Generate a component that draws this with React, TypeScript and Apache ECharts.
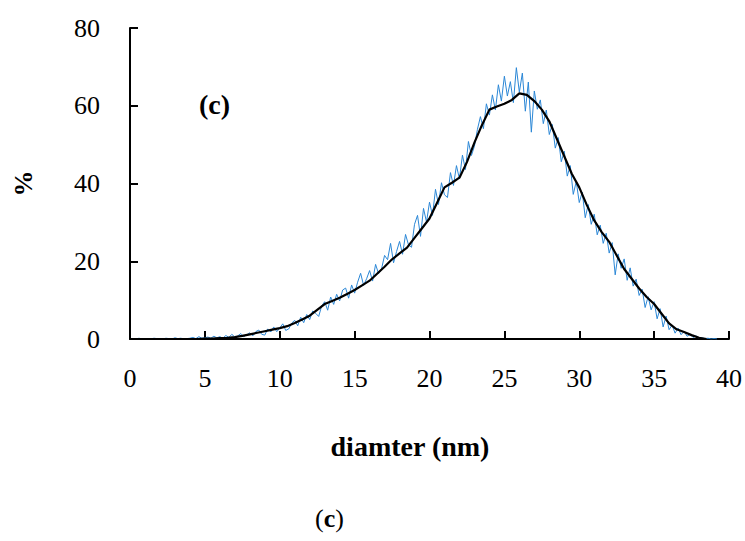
import React, { useEffect, useRef } from "react";
import * as echarts from "echarts";

const xTicks = [0, 5, 10, 15, 20, 25, 30, 35, 40];
const yTicks = [0, 20, 40, 60, 80];
const xTitle = "diamter (nm)";
const yTitle = "%";

// raw (blue) series sampled every 0.2 nm starting at 0
const blueStep = 0.2;
const blueValues = [
  0, 0.1, 0, 0.2, 0, 0.1, 0.1, 0, 0.2, 0.1,
  0.1, 0, 0.2, 0.1, 0, 0.3, 0.1, 0.2, 0, 0.1,
  0.2, 0.4, 0.1, 0.6, 0.2, 0.3, 0.5, 0.2, 0.7, 0.3,
  0.6, 0.2, 0.9, 0.4, 1.2, 0.5, 0.8, 1.4, 0.6, 1.1,
  1.6, 0.8, 1.9, 2.3, 1.2, 1.0, 2.6, 1.8, 3.1, 1.9,
  2.8, 3.9, 2.2, 2.6, 4.1, 4.8, 3.4, 5.6, 4.2, 6.3,
  5.0, 7.2, 6.6, 5.8, 8.5, 9.6, 7.4, 10.8, 8.9, 11.5,
  9.8, 12.6, 13.1, 10.5, 13.9, 11.8, 14.6, 16.9, 13.8, 15.5,
  17.6, 14.9, 19.2, 16.8, 18.1, 21.5, 20.4, 24.6, 19.6, 22.5,
  25.1, 21.8, 26.9, 24.2, 23.6, 29.5, 31.8, 26.4, 33.6, 30.1,
  35.2, 31.8, 38.5, 34.6, 40.2, 37.1, 36.4, 42.8, 39.5, 44.6,
  41.2, 47.3, 43.6, 50.8, 47.2, 49.6, 53.9, 57.2, 54.1, 60.5,
  57.6, 62.8, 58.9, 65.4, 61.2, 67.6, 62.5, 66.2, 60.8, 69.8,
  63.5, 68.4, 58.6, 66.1, 53.2, 63.8, 59.1, 61.5, 55.4, 58.9,
  52.6, 55.2, 49.1, 51.8, 45.6, 48.3, 41.9, 44.6, 37.2, 40.5,
  35.1, 37.8, 31.2, 34.6, 29.5, 32.1, 26.8, 29.3, 24.6, 27.2,
  22.1, 24.8, 16.5, 21.9, 18.2, 20.6, 15.1, 18.3, 13.6, 15.4,
  11.2, 12.8, 8.1, 10.9, 7.5, 9.6, 5.2, 7.8, 3.1, 5.9,
  2.4, 3.6, 1.5, 2.8, 1.1, 2.0, 0.7, 1.2, 0.4, 0.8,
  0.2, 0.3, 0.1, 0.2, 0, 0.1, 0,
];

// smoothed (black) series sampled every 0.5 nm starting at 0
const blackStep = 0.5;
const blackValues = [
  0, 0, 0, 0, 0, 0, 0, 0, 0, 0,
  0.1, 0.1, 0.2, 0.3, 0.5, 0.8, 1.2, 1.6, 2.0, 2.4,
  2.8, 3.3, 4.1, 5.0, 6.0, 7.5, 9.0, 9.8, 10.6, 11.6,
  12.6, 13.8, 15.0, 16.8, 18.6, 20.5, 22.0, 23.5, 26.0, 28.5,
  31.0, 35.0, 39.0, 40.2, 41.5, 45.5, 50.5, 55.0, 59.0, 59.8,
  60.5, 61.5, 63.2, 62.8, 61.2, 59.0, 56.0, 51.5, 47.0, 42.5,
  39.0, 34.5, 30.5, 27.5, 25.0, 21.5, 18.0, 15.5, 13.0, 10.8,
  9.0, 6.5, 4.0, 2.5, 1.8, 1.0, 0.3, 0,
];

const FONT = "'Liberation Serif', 'Times New Roman', serif";

export default function App() {
  const ref = useRef<HTMLDivElement>(null);
  useEffect(() => {
    if (!ref.current) return;
    const chart = echarts.init(ref.current, null, { renderer: "svg" });
    const blueData = blueValues.map((v, i) => [+(i * blueStep).toFixed(2), v]);
    const blackData = blackValues.map((v, i) => [+(i * blackStep).toFixed(2), v]);
    chart.setOption({
      animation: false,
      backgroundColor: "#ffffff",
      grid: { left: 130, right: 15, top: 28, bottom: 202, containLabel: false },
      xAxis: {
        type: "value",
        min: xTicks[0],
        max: xTicks[xTicks.length - 1],
        interval: 5,
        axisLine: { lineStyle: { color: "#000", width: 2 } },
        axisTick: { inside: true, length: 8, lineStyle: { color: "#000", width: 2 } },
        axisLabel: { margin: 26, fontFamily: FONT, fontSize: 26, color: "#000" },
        splitLine: { show: false },
      },
      yAxis: {
        type: "value",
        min: yTicks[0],
        max: yTicks[yTicks.length - 1],
        interval: 20,
        name: yTitle,
        nameLocation: "middle",
        nameGap: 94,
        nameRotate: 90,
        nameTextStyle: { fontFamily: FONT, fontSize: 26, fontWeight: "bold", color: "#000" },
        axisLine: { show: true, lineStyle: { color: "#000", width: 2 } },
        axisTick: { show: true, inside: true, length: 8, lineStyle: { color: "#000", width: 2 } },
        axisLabel: { margin: 30, fontFamily: FONT, fontSize: 26, color: "#000" },
        splitLine: { show: false },
      },
      graphic: [
        {
          type: "text",
          x: 410,
          y: 446,
          style: {
            text: xTitle,
            font: `bold 28px ${FONT}`,
            fill: "#000",
            align: "center",
            verticalAlign: "middle",
          },
        },
        {
          type: "text",
          left: 199,
          top: 90,
          style: { text: "(c)", font: `bold 28px ${FONT}`, fill: "#000" },
        },
        {
          type: "text",
          left: 315,
          top: 505,
          style: {
            text: "({b|c})",
            font: `26px ${FONT}`,
            fill: "#000",
            rich: { b: { fontWeight: "bold", fontFamily: FONT, fontSize: 26 } },
          },
        },
      ],
      series: [
        {
          type: "line",
          data: blueData,
          showSymbol: false,
          lineStyle: { color: "#2b87d6", width: 1 },
          z: 2,
        },
        {
          type: "line",
          data: blackData,
          showSymbol: false,
          lineStyle: { color: "#000", width: 2.2 },
          z: 3,
        },
      ],
    });
    return () => chart.dispose();
  }, []);
  return <div ref={ref} style={{ width: 745, height: 541, position: "absolute", left: 0, top: 0 }} />;
}
